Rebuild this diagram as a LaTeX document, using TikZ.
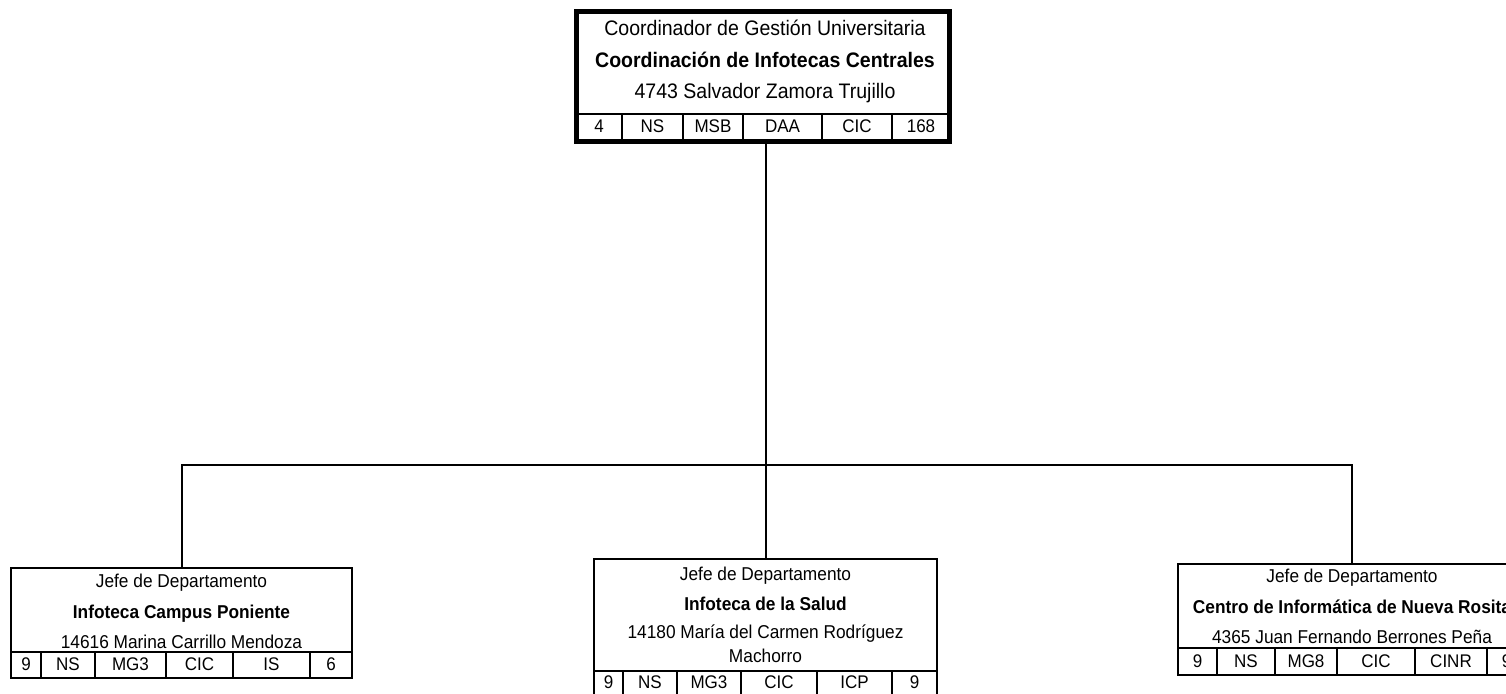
\documentclass[tikz,border=0pt]{standalone}
\usepackage{fontspec}
\setmainfont{Liberation Sans}[FakeStretch=0.93]
\usepackage{tikz}
\usetikzlibrary{positioning, calc}
\definecolor{orgblack}{RGB}{0,0,0}
\tikzset{
  headbox/.style={rectangle, draw=orgblack, line width=5pt, inner sep=0pt},
  jefebox/.style={rectangle, draw=orgblack, line width=2pt, inner sep=0pt},
  bigtext/.style={anchor=base, inner sep=0pt, font=\fontsize{21}{24}\selectfont},
  bigbold/.style={bigtext, font=\fontsize{21}{24}\selectfont\bfseries},
  smalltext/.style={anchor=base, inner sep=0pt, font=\fontsize{18.6}{21}\selectfont},
  smallbold/.style={smalltext, font=\fontsize{18.6}{21}\selectfont\bfseries},
  celltext/.style={anchor=base, inner sep=0pt, font=\fontsize{18.3}{21}\selectfont},
  rowline/.style={line width=1.6pt, color=orgblack},
  link/.style={line width=2pt, color=orgblack}
}

\begin{document}
\begin{tikzpicture}[x=1pt, y=-1pt]
  \useasboundingbox (0,0) rectangle (1506,693);
  \fill[white] (0,0) rectangle (1506,693);
  \clip (0,0) rectangle (1506,693);

  % Coordinacion (head)
  \node[headbox, minimum width=373pt, minimum height=130pt] (head) at (763,76.5) {};
  \node[bigtext] (head-l1) at (765,36) {Coordinador de Gestión Universitaria};
  \node[bigbold] (head-l2) at (765,67) {Coordinación de Infotecas Centrales};
  \node[bigtext] (head-l3) at (765,98) {4743 Salvador Zamora Trujillo};
  \draw[rowline] (576,114) -- (950,114);
  \foreach \x in {622,683,743,822,892}
    \draw[rowline] (\x,114) -- (\x,139);
  \foreach \a/\b/\lab [count=\i] in {576/622/4, 622/683/NS, 683/743/MSB, 743/822/DAA, 822/892/CIC, 892/950/168}
    \node[celltext] (head-c\i) at ({(\a+\b)/2},132) {\lab};

  % Infoteca Campus Poniente
  \node[jefebox, minimum width=341pt, minimum height=110pt] (left) at (181.5,623) {};
  \node[smalltext] (left-l1) at (181.5,587) {Jefe de Departamento};
  \node[smallbold] (left-l2) at (181.5,618) {Infoteca Campus Poniente};
  \node[smalltext] (left-l3) at (181.5,648) {14616 Marina Carrillo Mendoza};
  \draw[rowline] (11,652) -- (352,652);
  \foreach \x in {41,95,166,233,310}
    \draw[rowline] (\x,652) -- (\x,678);
  \foreach \a/\b/\lab [count=\i] in {11/41/9, 41/95/NS, 95/166/MG3, 166/233/CIC, 233/310/IS, 310/352/6}
    \node[celltext] (left-c\i) at ({(\a+\b)/2},670) {\lab};

  % Infoteca de la Salud
  \node[jefebox, minimum width=343pt, minimum height=138pt] (mid) at (765.5,628) {};
  \node[smalltext] (mid-l1) at (765.5,580) {Jefe de Departamento};
  \node[smallbold] (mid-l2) at (765.5,610) {Infoteca de la Salud};
  \node[smalltext] (mid-l3) at (765.5,638) {14180 María del Carmen Rodríguez};
  \node[smalltext] (mid-l4) at (765.5,662) {Machorro};
  \draw[rowline] (594,671) -- (937,671);
  \foreach \x in {623,677,741,817,892}
    \draw[rowline] (\x,671) -- (\x,697);
  \foreach \a/\b/\lab [count=\i] in {594/623/9, 623/677/NS, 677/741/MG3, 741/817/CIC, 817/892/ICP, 892/937/9}
    \node[celltext] (mid-c\i) at ({(\a+\b)/2},688) {\lab};

  % Centro de Informatica de Nueva Rosita
  \node[jefebox, minimum width=348pt, minimum height=111pt] (right) at (1352,619.5) {};
  \node[smalltext] (right-l1) at (1352,582) {Jefe de Departamento};
  \node[smallbold] (right-l2) at (1352,613) {Centro de Informática de Nueva Rosita};
  \node[smalltext] (right-l3) at (1352,643) {4365 Juan Fernando Berrones Peña};
  \draw[rowline] (1178,648) -- (1526,648);
  \foreach \x in {1217,1275,1337,1415,1487}
    \draw[rowline] (\x,648) -- (\x,675);
  \foreach \a/\b/\lab [count=\i] in {1178/1217/9, 1217/1275/NS, 1275/1337/MG8, 1337/1415/CIC, 1415/1487/CINR, 1487/1526/9}
    \node[celltext] (right-c\i) at ({(\a+\b)/2},667) {\lab};

  % Connectors
  \coordinate (bus) at (765,465);
  \draw[link] (head.south -| mid.north) -- (mid.north);
  \draw[link] (left.north) -- (left.north |- bus) -- (right.north |- bus) -- (right.north);
\end{tikzpicture}
\end{document}
